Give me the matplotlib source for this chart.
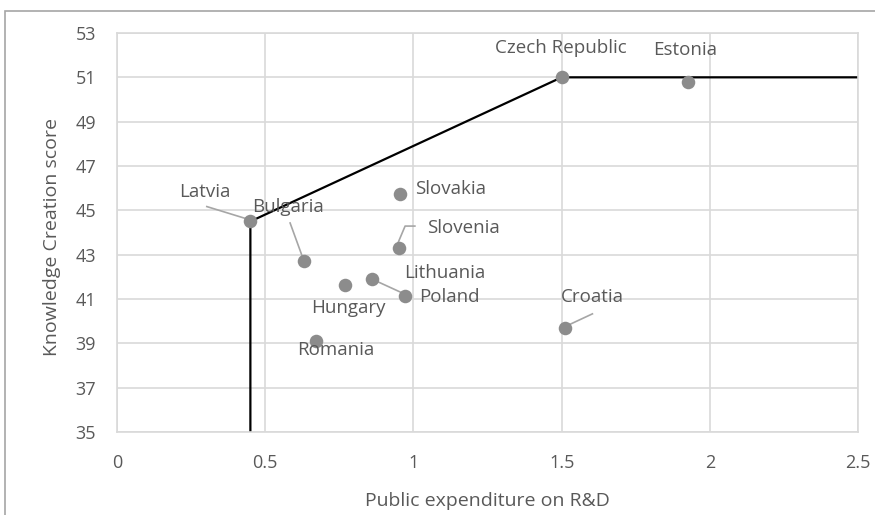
import matplotlib
matplotlib.use("Agg")
import matplotlib.pyplot as plt
from matplotlib.patches import Rectangle

plt.rcParams['font.family'] = ['Open Sans', 'DejaVu Sans']

countries = ["Latvia", "Bulgaria", "Hungary", "Lithuania", "Poland", "Romania",
             "Slovakia", "Slovenia", "Croatia", "Czech Republic", "Estonia"]
expenditure = [0.45, 0.63, 0.77, 0.86, 0.97, 0.67, 0.955, 0.95, 1.51, 1.50, 1.925]
knowledge = [44.5, 42.7, 41.65, 41.9, 41.15, 39.1, 45.75, 43.3, 39.7, 51.0, 50.8]

x_ticks = [0, 0.5, 1, 1.5, 2, 2.5]
x_tick_labels = ["0", "0.5", "1", "1.5", "2", "2.5"]
y_ticks = [35, 37, 39, 41, 43, 45, 47, 49, 51, 53]

TEXT = "#595959"
GRID = "#d9d9d9"
DOT = "#8c8c8c"
LEAD = "#a6a6a6"

fig = plt.figure(figsize=(8.75, 5.15), dpi=100)
ax = fig.add_axes([117 / 875, 1 - 432 / 515, (858 - 117) / 875, (432 - 33) / 515])

# outer chart frame
fig.patches.append(Rectangle((5 / 875, -0.1), 1.2, 1 - 11 / 515 + 0.1,
                             transform=fig.transFigure, fill=False,
                             edgecolor="#a6a6a6", linewidth=1.2))

ax.set_xlim(0, 2.5)
ax.set_ylim(35, 53)
ax.set_xticks(x_ticks)
ax.set_xticklabels(x_tick_labels)
ax.set_yticks(y_ticks)
ax.grid(True, color=GRID, linewidth=1.2)
ax.set_axisbelow(True)
for s in ax.spines.values():
    s.set_color(GRID)
    s.set_linewidth(1.2)
ax.tick_params(length=0, colors=TEXT, labelsize=13)
ax.tick_params(axis="x", pad=16)
ax.tick_params(axis="y", pad=15)

# efficiency frontier through Latvia and the Czech Republic
i = countries.index
lv, cz = i("Latvia"), i("Czech Republic")
fx = [expenditure[lv], expenditure[lv], expenditure[cz], 2.5]
fy = [35, knowledge[lv], knowledge[cz], knowledge[cz]]
ax.plot(fx, fy, color="black", linewidth=1.6, zorder=2)

ax.scatter(expenditure, knowledge, s=95, color=DOT, zorder=3, linewidths=0)

# label placement: offset of the label centre from its point (data units)
label_offset = {
    "Latvia": (-0.153, 1.34),
    "Bulgaria": (-0.052, 2.45),
    "Hungary": (0.009, -1.05),
    "Lithuania": (0.245, 0.29),
    "Poland": (0.152, -0.06),
    "Romania": (0.067, -0.4),
    "Slovakia": (0.169, 0.21),
    "Slovenia": (0.219, 0.9),
    "Croatia": (0.094, 1.41),
    "Czech Republic": (-0.002, 1.32),
    "Estonia": (-0.009, 1.43),
}
for name, x, y in zip(countries, expenditure, knowledge):
    dx, dy = label_offset[name]
    ax.text(x + dx, y + dy, name, ha="center", va="center", color=TEXT,
            fontsize=13.5, zorder=4)

# leader lines from labels to their points
def lead(xs, ys):
    ax.plot(xs, ys, color=LEAD, linewidth=1.2, zorder=2.5)

lead([0.303, 0.439], [45.17, 44.61])
lead([0.584, 0.627], [44.43, 42.85])
lead([0.948, 0.972, 1.005], [43.53, 44.29, 44.29])
lead([expenditure[i("Lithuania")], 0.989], [knowledge[i("Lithuania")], 41.11])
lead([1.511, 1.604], [39.75, 40.33])

ax.set_xlabel("Public expenditure on R&D", color=TEXT, fontsize=14)
ax.set_ylabel("Knowledge Creation score", color=TEXT, fontsize=14)
ax.xaxis.set_label_coords(0.4993, -0.172)
ax.xaxis.label.set_va("center")
ax.yaxis.set_label_coords(-0.088, 0.4875)
ax.yaxis.label.set_va("center")

fig.savefig("out.png", dpi=100)
